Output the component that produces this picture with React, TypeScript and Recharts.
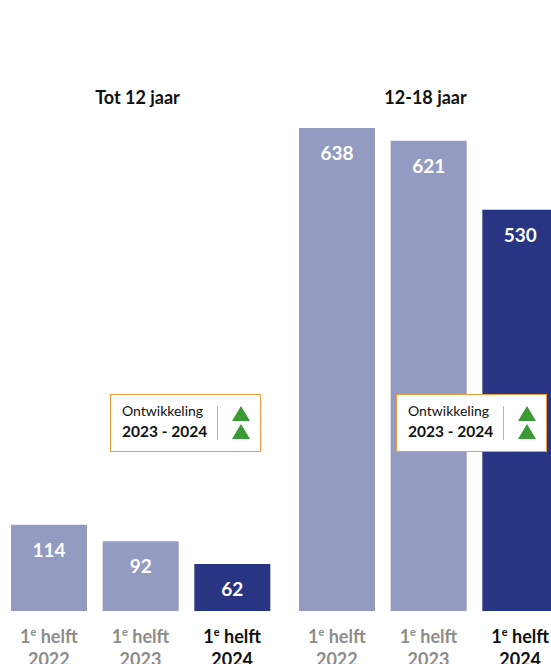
import { BarChart, Bar, XAxis, YAxis, Cell, LabelList } from 'recharts';

const periods = ['2022', '2023', '2024'];
const groupTitles = ['Tot 12 jaar', '12-18 jaar'];
const tot12Values = [114, 92, 62];
const teenValues = [638, 621, 530];

const LIGHT = '#939bc2';
const DARK = '#283583';
const FONT = 'Lato, "Open Sans", sans-serif';

function PeriodTick(props: any) {
  const { x, y, payload, index } = props;
  const current = index === periods.length - 1;
  return (
    <text
      x={x}
      y={y + 24}
      textAnchor="middle"
      fontFamily={FONT}
      fontWeight={700}
      fontSize={18}
      fill={current ? '#111111' : '#8c8c8c'}
    >
      <tspan>1</tspan>
      <tspan fontSize={11} dy={-7}>e</tspan>
      <tspan dy={7}> helft</tspan>
      <tspan x={x} dy={23}>{payload.value}</tspan>
    </text>
  );
}

function ValueLabel(props: any) {
  const { x, y, width, value } = props;
  return (
    <text
      x={x + width / 2}
      y={y + 32}
      textAnchor="middle"
      fontFamily={FONT}
      fontWeight={700}
      fontSize={19}
      fill="#ffffff"
    >
      {value}
    </text>
  );
}

function GroupChart({ values, left, title }: { values: number[]; left: number; title: string }) {
  const rows = periods.map((p, i) => ({ period: p, value: values[i] }));
  return (
    <div style={{ position: 'absolute', left, top: 0 }}>
      <div
        style={{
          position: 'absolute',
          left: -3,
          width: 275,
          top: 86,
          textAlign: 'center',
          fontFamily: FONT,
          fontWeight: 700,
          fontSize: 18,
          color: '#111',
        }}
      >
        {title}
      </div>
      <BarChart width={275} height={680} data={rows} margin={{ top: 128, right: 0, bottom: 0, left: 0 }}>
        <XAxis dataKey="period" height={69} axisLine={false} tickLine={false} tick={<PeriodTick />} interval={0} />
        <YAxis hide domain={[0, 638]} />
        <Bar dataKey="value" barSize={76} isAnimationActive={false}>
          {rows.map((r, i) => (
            <Cell key={r.period} fill={i === rows.length - 1 ? DARK : LIGHT} />
          ))}
          <LabelList dataKey="value" content={<ValueLabel />} />
        </Bar>
      </BarChart>
    </div>
  );
}

function Trend({ left }: { left: number }) {
  return (
    <div
      style={{
        position: 'absolute',
        left,
        top: 394,
        width: 151,
        height: 58,
        border: '1px solid #f39a3c',
        background: '#fff',
        fontFamily: FONT,
        boxSizing: 'border-box',
      }}
    >
      <div style={{ position: 'absolute', left: 11, top: 7, fontSize: 14, color: '#111' }}>Ontwikkeling</div>
      <div style={{ position: 'absolute', left: 11, top: 27, fontSize: 15.5, fontWeight: 700, color: '#111' }}>
        2023 - 2024
      </div>
      <div style={{ position: 'absolute', left: 106, top: 11, width: 1, height: 34, background: '#b5b5b5' }} />
      <svg style={{ position: 'absolute', left: 120, top: 11 }} width={20} height={34}>
        <polygon points="10,0 19,15 1,15" fill="#3a9a35" />
        <polygon points="10,18 19,33 1,33" fill="#3a9a35" />
      </svg>
    </div>
  );
}

export default function App() {
  return (
    <div
      style={{
        position: 'absolute',
        left: 0,
        top: 0,
        width: 551,
        height: 664,
        overflow: 'hidden',
        background: '#fff',
      }}
    >
      <GroupChart values={tot12Values} left={3} title={groupTitles[0]} />
      <GroupChart values={teenValues} left={291} title={groupTitles[1]} />
      <Trend left={110} />
      <Trend left={396} />
    </div>
  );
}
